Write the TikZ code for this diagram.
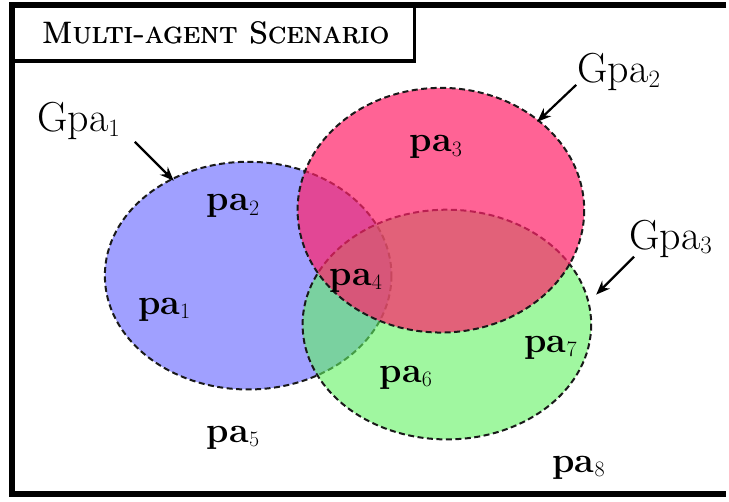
\documentclass[tikz,border=0pt]{standalone}
\usetikzlibrary{arrows.meta}
\definecolor{setblue}{RGB}{160,160,255}
\definecolor{setgreen}{RGB}{97,243,97}
\definecolor{setpink}{RGB}{255,34,105}
\newcommand\palabel[1]{pa\raisebox{-0.12em}{\fontsize{22}{22}\mdseries\selectfont #1}}
\newcommand\gpalabel[1]{Gpa\raisebox{-0.1em}{\fontsize{25}{25}\selectfont #1}}
% slightly heavier text by overprinting with a small shift
\newcommand\heavy[1]{\rlap{#1}\hspace{0.7pt}#1}
\begin{document}
\begin{tikzpicture}[x=1pt,y=-1pt,
  frameline/.style={line width=6pt,line cap=butt,line join=miter},
  titleline/.style={line width=3.5pt},
  setshape/.style={draw=black!90,line width=2pt,dash pattern=on 6pt off 3.5pt},
  elementlabel/.style={anchor=base west,inner sep=0pt,font=\fontsize{36}{36}\selectfont\bfseries},
  grouplabel/.style={anchor=base west,inner sep=0pt,font=\fontsize{42}{42}\selectfont},
  pointer/.style={line width=2.2pt,-{Stealth[length=14pt,width=11pt]}}]
  \fill[white] (0,0) rectangle (729,502);

  % outer frame (open on the right) and title box
  \coordinate (ftr) at (727,5);
  \coordinate (fbr) at (727,495);
  \draw[frameline] (ftr) -- (12.5,5) -- (12.5,495) -- (fbr);
  \draw[titleline] (12.5,61) -- (415,61) -- (415,5);
  \node[inner sep=0pt,font=\fontsize{31}{31}\selectfont\scshape] (title) at (216,33) {\heavy{Multi-agent Scenario}};

  % the three groups
  \path[setshape,fill=setblue] (248.5,276) ellipse [x radius=143.5,y radius=114];
  \path[setshape,fill=setgreen,fill opacity=0.6] (447.5,325) ellipse [x radius=144.5,y radius=115];
  \path[setshape,fill=setpink,fill opacity=0.7] (441.5,210.5) ellipse [x radius=143.5,y radius=122.5];

  % group names
  \node[grouplabel] (g1) at (37,132) {\gpalabel{1}};
  \node[grouplabel] (g2) at (578,83) {\gpalabel{2}};
  \node[grouplabel] (g3) at (630,250) {\gpalabel{3}};
  \coordinate (t1) at (174,181);
  \coordinate (t2) at (538,122);
  \coordinate (t3) at (597,295);
  \draw[pointer] (135,142) -- (t1);
  \draw[pointer] (577,85) -- (t2);
  \draw[pointer] (635,257) -- (t3);

  % elements
  \node[elementlabel] (p1) at (138,315) {\palabel{1}};
  \node[elementlabel] (p2) at (207,211) {\palabel{2}};
  \node[elementlabel] (p3) at (410,152) {\palabel{3}};
  \node[elementlabel] (p4) at (330,286) {\palabel{4}};
  \node[elementlabel] (p5) at (207,443) {\palabel{5}};
  \node[elementlabel] (p6) at (380,383) {\palabel{6}};
  \node[elementlabel] (p7) at (525,353) {\palabel{7}};
  \node[elementlabel] (p8) at (553,473) {\palabel{8}};
\end{tikzpicture}
\end{document}
